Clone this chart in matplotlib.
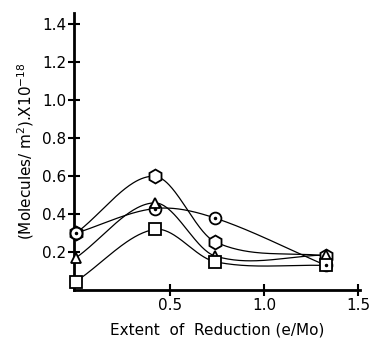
import numpy as np
import matplotlib.pyplot as plt

# Data
x = [0.0, 0.42, 0.74, 1.33]
hexagon = [0.30, 0.60, 0.255, 0.18]
circle = [0.30, 0.43, 0.38, 0.13]
triangle = [0.17, 0.46, 0.18, 0.185]
square = [0.045, 0.32, 0.15, 0.13]


def smooth_curve(xs, ys, n=60):
    # cubic Hermite curve through the points (Catmull-Rom style tangents)
    xs = np.asarray(xs, float)
    ys = np.asarray(ys, float)
    k = len(xs)
    m = np.zeros(k)
    m[0] = (ys[1] - ys[0]) / (xs[1] - xs[0])
    m[-1] = (ys[-1] - ys[-2]) / (xs[-1] - xs[-2])
    for i in range(1, k - 1):
        m[i] = (ys[i + 1] - ys[i - 1]) / (xs[i + 1] - xs[i - 1])
    xo, yo = [], []
    for i in range(k - 1):
        h = xs[i + 1] - xs[i]
        t = np.linspace(0, 1, n)
        h00 = 2 * t**3 - 3 * t**2 + 1
        h10 = t**3 - 2 * t**2 + t
        h01 = -2 * t**3 + 3 * t**2
        h11 = t**3 - t**2
        xo.append(xs[i] + t * h)
        yo.append(h00 * ys[i] + h10 * h * m[i] + h01 * ys[i + 1] + h11 * h * m[i + 1])
    return np.concatenate(xo), np.concatenate(yo)


fig = plt.figure(figsize=(3.73, 3.45), dpi=100)
ax = fig.add_axes([0.198, 0.159, 0.767, 0.803])

for ys in [hexagon, circle, triangle, square]:
    xx, yy = smooth_curve(x, ys)
    ax.plot(xx, yy, color='black', lw=0.9)

mk = dict(ls='none', mfc='white', mec='black', mew=1.3, zorder=3, clip_on=False)
ax.plot(x, hexagon, marker='h', ms=10, **mk)
ax.plot(x, circle, marker='o', ms=8.5, **mk)
ax.plot(x, circle, marker='o', ms=1.5, ls='none', color='black', zorder=4, clip_on=False)
ax.plot(x, triangle, marker='^', ms=7.5, **mk)
ax.plot(x, square, marker='s', ms=8, **mk)

ax.set_xlim(-0.01, 1.51)
ax.set_ylim(0, 1.46)
ax.set_xticks([0.5, 1.0, 1.5])
ax.set_xticklabels(['0.5', '1.0', '1.5'])
ax.set_yticks([0.2, 0.4, 0.6, 0.8, 1.0, 1.2, 1.4])
ax.set_yticklabels(['0.2', '0.4', '0.6', '0.8', '1.0', '1.2', '1.4'])
ax.tick_params(direction='inout', length=9, width=1.5, labelsize=11, pad=1)
for s in ['top', 'right']:
    ax.spines[s].set_visible(False)
for s in ['left', 'bottom']:
    ax.spines[s].set_linewidth(2)

ax.set_xlabel('Extent  of  Reduction (e/Mo)', fontsize=11, labelpad=7)
ax.set_ylabel('(Molecules/ m$^2$).X10$^{-18}$', fontsize=11, labelpad=4)

fig.savefig('out.png', dpi=100)
